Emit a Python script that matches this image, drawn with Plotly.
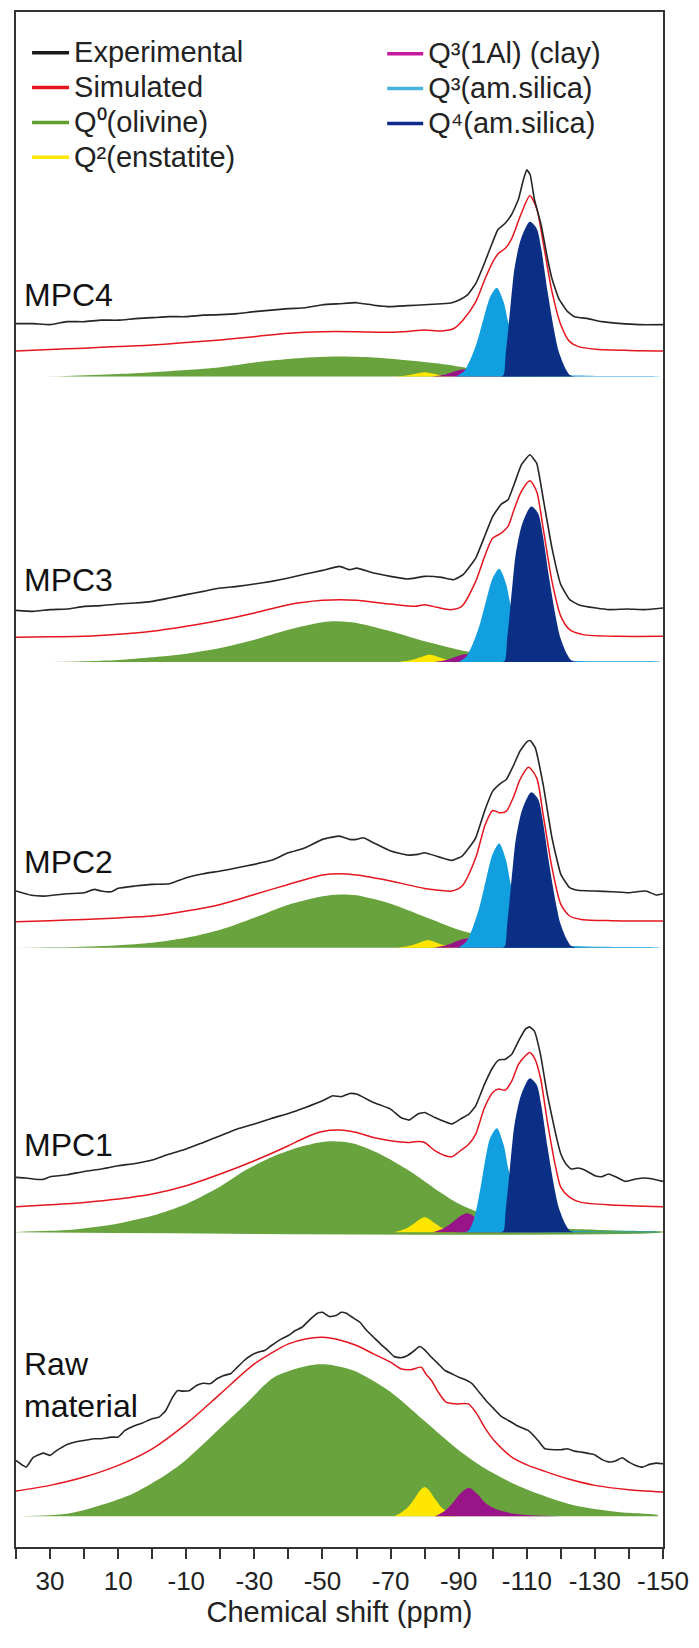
import plotly.graph_objects as go

# ---------------- data (ppm, intensity in a.u.) ----------------
mpc4_exp = [(40, 1), (35, 1), (30, 0), (25, 3), (20, 3), (15, 4.5), (10, 4.5), (5, 6), (0, 7), (-5, 8), (-10, 8),
            (-15, 9.5), (-20, 10), (-25, 11), (-30, 13), (-35, 14.5), (-40, 16), (-45, 17), (-50, 20), (-55, 21),
            (-60, 22), (-65, 19.5), (-70, 18), (-75, 19), (-80, 20), (-85, 21), (-88, 22), (-90, 24.5), (-92.5, 29.5),
            (-95, 41), (-97.5, 61), (-100, 83), (-101.5, 95), (-103.5, 101), (-105.5, 110), (-107.5, 125), (-109, 145),
            (-110, 155), (-111, 150), (-112.2, 126), (-114.2, 100), (-116.1, 66), (-117.4, 46), (-119.4, 26), (-122, 13),
            (-124, 8), (-128, 6), (-132, 3), (-137, 1.3), (-143, 0), (-150, 0)]
mpc4_sim = [(40, 0), (30, 1.5), (20, 2.7), (10, 4.5), (0, 6), (-10, 8.5), (-20, 11), (-30, 14.3), (-40, 17.7),
            (-50, 19.3), (-60, 19.3), (-70, 18.7), (-75, 19.5), (-80, 21), (-85, 20), (-88.7, 22.7), (-91.3, 31),
            (-95, 49), (-97.8, 72.7), (-100, 89), (-101.7, 97.7), (-103.7, 102.7), (-105.6, 112.7), (-108.2, 136),
            (-110.9, 155.3), (-112.9, 142.7), (-114.8, 109), (-117.4, 59.3), (-120, 26), (-122.6, 9.3), (-125.2, 4.3),
            (-130.4, 1.7), (-140, 0.5), (-150, 0)]
mpc4_q0 = [(35, 0), (25, 0.7), (10, 2.5), (0, 4.3), (-10, 6.5), (-20, 9.3), (-30, 14), (-40, 17.5), (-46, 19),
           (-55, 20), (-65, 19), (-78.6, 15), (-89, 10.7), (-95, 7), (-100, 4), (-110, 1.5), (-120, 0.6), (-135, 0)]
mpc4_q2 = [(-71, 0), (-73, 0.5), (-75, 1.3), (-77, 2.6), (-78.5, 3.7), (-80, 4.3), (-81.5, 3.7), (-83, 2.6),
           (-85, 1.3), (-87, 0.5), (-89, 0)]
mpc4_q3al = [(-82.2, 0), (-85.2, 1.5), (-87.7, 3.9), (-89.7, 6.2), (-92.2, 7.7), (-94.7, 6), (-97.2, 3.5),
             (-100.2, 1.9), (-103.2, 1.2), (-106.2, 0.6), (-110.2, 0.3), (-116.2, 0.1), (-122.2, 0)]
mpc4_q3am = [(-89.2, 0), (-90.2, 1.8), (-91.5, 5), (-93.4, 16.9), (-95.4, 34.7), (-97.3, 57.9), (-99.3, 80.1),
             (-101.2, 89), (-103.2, 74.8), (-104.5, 55.2), (-106.4, 34.7), (-108.5, 17.8), (-111, 8), (-115.2, 3),
             (-120.2, 1.5), (-130.2, 0.7), (-149, 0.2)]
mpc4_q4 = [(-102.5, 0), (-103.2, 1.6), (-103.8, 21.7), (-104.5, 45), (-105.4, 77.5), (-106.4, 108.5), (-108.3, 138),
           (-110.9, 155), (-112.9, 148.3), (-114.2, 128.7), (-116.1, 85.3), (-118.1, 45), (-119.4, 24.8),
           (-121.3, 8.4), (-122.6, 1.7), (-124, 0)]

mpc3_exp = [(40, 0), (35, -1), (30, 0.7), (25, 1.3), (20, 4), (15, 4.7), (10, 6.3), (5, 7.3), (0, 9), (-5, 12.3),
            (-10, 15.7), (-15, 19), (-20, 22.3), (-25, 24), (-30, 26.3), (-35, 29), (-40, 32.3), (-45, 36.3),
            (-50, 40), (-55, 44), (-58, 40.7), (-60, 42.3), (-65, 37.3), (-70, 34), (-75, 31.3), (-80, 34), (-85, 33),
            (-88.5, 30.7), (-91.3, 35.7), (-95, 52.3), (-97.8, 75.7), (-100, 94), (-102.5, 106.3), (-104.5, 110.7),
            (-106.4, 127.3), (-108.4, 145.7), (-110.9, 155.7), (-112.9, 147.3), (-114.8, 112.3), (-117.4, 62.3),
            (-120, 25.7), (-122.6, 10.7), (-125.2, 5.7), (-130.4, 2.3), (-134.3, 0.7), (-139.4, 1.3), (-144.6, 0.7),
            (-150, 2.3)]
mpc3_sim = [(40, 0), (30, 0.5), (20, 1), (10, 3), (0, 6), (-10, 11), (-20, 17), (-30, 24.3), (-40, 32.7), (-50, 37),
            (-55.3, 37.7), (-60, 37), (-70, 33.3), (-77.2, 31), (-80, 32.7), (-83.7, 30), (-87.6, 27.7), (-90.9, 31),
            (-95, 56), (-97.8, 82.7), (-100, 99.3), (-102.5, 104.3), (-104.5, 111), (-106.4, 129.3), (-108.4, 146),
            (-110.9, 156.7), (-112.9, 146), (-114.8, 109.3), (-117.4, 56), (-120, 21), (-122.6, 7.7), (-126.5, 2.7),
            (-136.8, 1), (-150, 1)]
mpc3_q0 = [(30, 0), (20, 0.7), (10, 2), (0, 4.7), (-10, 8.3), (-20, 14), (-30, 22.3), (-40, 32.3), (-50, 39.7),
           (-54, 40.7), (-60, 39), (-70, 30.7), (-80, 20.7), (-90, 12.3), (-95, 9), (-100, 5.7), (-110, 2.3),
           (-120, 0.7), (-130, 0)]
mpc3_q2 = [(-72.5, 0), (-74.5, 0.9), (-76.5, 2.2), (-78.5, 4.4), (-80, 6.3), (-81.5, 7.3), (-83, 6.3), (-84.5, 4.4),
           (-86.5, 2.2), (-88.5, 0.9), (-90.5, 0)]
mpc3_q3al = [(-82.7, 0), (-85.7, 1.6), (-88.2, 4), (-90.2, 6.4), (-92.7, 8), (-95.2, 6.2), (-97.7, 3.6),
             (-100.7, 2), (-103.7, 1.2), (-106.7, 0.6), (-110.7, 0.3), (-116.7, 0.1), (-122.7, 0)]
mpc3_q3am = [(-89.9, 0), (-90.9, 1.9), (-92.2, 5.2), (-94.1, 17.7), (-96.1, 36.4), (-98, 60.6), (-100, 84),
             (-101.9, 93.3), (-103.9, 78.4), (-105.2, 57.8), (-107.1, 36.4), (-109.2, 18.7), (-111.7, 8.4),
             (-115.9, 3.2), (-120.9, 1.6), (-130.9, 0.7), (-149, 0.2)]
mpc3_q4 = [(-102.9, 0), (-103.6, 1.6), (-104.2, 21.8), (-104.9, 45.2), (-105.8, 77.9), (-106.8, 109),
           (-108.7, 138.6), (-111.3, 155.7), (-113.3, 149), (-114.6, 129.2), (-116.5, 85.6), (-118.5, 45.2),
           (-119.8, 24.9), (-121.7, 8.4), (-123, 1.7), (-124.4, 0)]

mpc2_exp = [(40, 3), (35.5, -1.3), (31, -2), (25, 0.3), (20, 1.3), (17, 4.7), (15, 3), (12, 2.3), (10, 5.7), (5, 8),
            (0, 9.7), (-5, 10.3), (-10, 16.3), (-15, 20.3), (-20, 23), (-25, 26.3), (-30, 29.7), (-35, 33.7),
            (-40, 41.3), (-45, 46.3), (-50, 54.7), (-55, 58), (-58, 54.7), (-60, 54.7), (-62, 56.3), (-65, 51.3),
            (-70, 43), (-75, 39), (-78, 39.7), (-80, 41.3), (-85, 36.3), (-88, 33.7), (-91, 38), (-93, 46.3),
            (-95, 56.3), (-97.6, 83), (-100, 103), (-102.5, 111.3), (-104, 114.7), (-106, 128), (-108, 143),
            (-110, 152.3), (-111, 153.7), (-112.5, 146.3), (-114.8, 109.7), (-117.4, 56.3), (-120, 19.7),
            (-122.6, 6.3), (-125, 3.7), (-130, 3), (-135, 2.3), (-140, 1.3), (-145, 3), (-148, -1), (-150, 0.3)]
mpc2_sim = [(40, 0), (30, 1), (20, 2.3), (10, 3.8), (0, 5.7), (-10, 10.7), (-20, 17.3), (-30, 27.3), (-40, 37.3),
            (-50, 46.7), (-55, 48), (-60, 46.7), (-70, 40.7), (-80, 33.3), (-85, 31.3), (-88, 30.7), (-91, 35.7),
            (-95, 64), (-97.8, 97.3), (-100, 111.3), (-102, 109), (-104, 110.7), (-106, 124), (-108, 142.3),
            (-110.5, 154.7), (-112.9, 144), (-114.8, 107.3), (-117.4, 54), (-120, 17.3), (-122.6, 5.7), (-126, 2.3),
            (-135, 1), (-150, 0.7)]
mpc2_q0 = [(40, 0), (30, 0.3), (20, 1), (10, 2.5), (0, 5), (-10, 10), (-20, 18), (-30, 30), (-40, 43), (-50, 51.5),
           (-55, 53.3), (-60, 52.5), (-70, 44), (-80, 31), (-90, 18), (-100, 9), (-110, 4), (-120, 1.5), (-130, 0.5),
           (-150, 0)]
mpc2_q2 = [(-72, 0), (-74, 0.9), (-76, 2.2), (-78, 4.4), (-79.5, 6.3), (-81, 7.3), (-82.5, 6.3), (-84, 4.4),
           (-86, 2.2), (-88, 0.9), (-90, 0)]
mpc2_q3al = [(-82.7, 0), (-85.7, 1.9), (-88.2, 4.7), (-90.2, 7.4), (-92.7, 9.3), (-95.2, 7.3), (-97.7, 4.2),
             (-100.7, 2.3), (-103.7, 1.4), (-106.7, 0.7), (-110.7, 0.3), (-116.7, 0.1), (-122.7, 0)]
mpc2_q3am = [(-89.9, 0), (-90.9, 2.1), (-92.2, 5.8), (-94.1, 19.8), (-96.1, 40.7), (-98, 67.8), (-100, 93.9),
             (-101.9, 104.3), (-103.9, 87.6), (-105.2, 64.7), (-107.1, 40.7), (-109.2, 20.9), (-111.7, 9.4),
             (-115.9, 3.5), (-120.9, 1.8), (-130.9, 0.8), (-149, 0.2)]
mpc2_q4 = [(-102.9, 0), (-103.6, 1.6), (-104.2, 21.8), (-104.9, 45.2), (-105.8, 77.9), (-106.8, 109),
           (-108.7, 138.6), (-111.3, 155.7), (-113.3, 149), (-114.6, 129.2), (-116.5, 85.6), (-118.5, 45.2),
           (-119.8, 24.9), (-121.7, 8.4), (-123, 1.7), (-124.4, 0)]

mpc1_exp = [(40, 1.3), (37, 0.7), (35, -0.3), (32, -0.7), (30, 2), (25, 4), (20, 7.3), (15, 9.7), (10, 13),
            (5, 15.3), (0, 18.7), (-5, 24.7), (-10, 29.7), (-15, 36.3), (-20, 43), (-25, 49.7), (-30, 54.7),
            (-35, 60.3), (-40, 65.3), (-45, 71.3), (-50, 78), (-53, 83), (-55.5, 82), (-58, 85.3), (-60, 84.7),
            (-65, 76.3), (-70, 69.7), (-73, 61.3), (-75.5, 58.7), (-78, 64.7), (-80, 66.3), (-83, 61.3), (-86, 57),
            (-88, 54.7), (-90.5, 59.7), (-93, 64.7), (-95, 73), (-97.6, 94.7), (-100, 111.3), (-101.7, 118.7),
            (-103.7, 119.7), (-105.6, 124.7), (-107.6, 138), (-109.6, 149.7), (-110.8, 152), (-112.2, 148),
            (-114, 124.7), (-116, 84.7), (-118.5, 44.7), (-120, 24.7), (-121.5, 14.7), (-123, 9.7), (-125, 10.7),
            (-127, 8.7), (-130, 3), (-132, 2), (-134, 4.7), (-136.5, 1.3), (-139, -2.7), (-142, -0.3), (-144.6, 0.7),
            (-147, -0.3), (-150, -2.7)]
mpc1_sim = [(40, 0), (30, 2), (20, 4.3), (10, 7.7), (0, 12.7), (-10, 21), (-20, 32.7), (-30, 46), (-40, 61),
            (-45, 69.3), (-50, 75.3), (-55, 76.7), (-60, 74.3), (-65, 69.3), (-70, 66), (-75, 64.3), (-78, 65.3),
            (-80, 64.3), (-83, 56), (-86, 51), (-88, 50), (-90.5, 56), (-93, 62.7), (-95, 72.7), (-97.6, 99.3),
            (-100, 114.3), (-101.7, 117.7), (-103.7, 116.7), (-105.6, 126), (-107.6, 142.7), (-109.6, 151),
            (-110.8, 154.3), (-112.2, 149.3), (-114, 129.3), (-116, 86), (-118.5, 39.3), (-120, 19.3), (-122.6, 9.3),
            (-126, 4.3), (-135, 1.7), (-150, 0)]
mpc1_q0 = [(40, 0.3), (35, 1), (25, 2.3), (12, 7.7), (0, 16.7), (-10, 28.5), (-20, 46), (-28, 63.3), (-36, 76.7),
           (-43.6, 85.7), (-51.3, 91), (-59, 89), (-67, 78.3), (-74.7, 63.3), (-82.5, 45), (-90.2, 28.3), (-100, 15),
           (-110, 8), (-120, 4), (-130, 2.5), (-140, 1.5), (-150, 0.5)]
mpc1_q2 = [(-71, 0), (-73, 1.8), (-75, 4.5), (-77, 9), (-78.5, 12.9), (-80, 15), (-81.5, 12.9), (-83, 9), (-85, 4.5),
           (-87, 1.8), (-89, 0)]
mpc1_q3al = [(-82.5, 0), (-85.5, 3.8), (-88, 9.5), (-90, 15.2), (-92.5, 19), (-95, 14.8), (-97.5, 8.6), (-100.5, 4.8),
             (-103.5, 2.9), (-106.5, 1.5), (-110.5, 0.7), (-116.5, 0.2), (-122.5, 0)]
mpc1_q3am = [(-91.7, 0), (-93, 2.1), (-94.3, 11.5), (-95.5, 28.2), (-96.8, 52.2), (-98.1, 78.2), (-99.3, 94.9),
             (-101.2, 104.3), (-103.2, 87.6), (-104.5, 64.7), (-106.4, 40.7), (-108.5, 20.9), (-111, 9.4),
             (-115.2, 3.5), (-120.2, 1.8), (-130.2, 0.8), (-149, 0.2)]
mpc1_q4 = [(-102.5, 0), (-103.2, 1.5), (-103.8, 21.6), (-104.5, 44.7), (-105.4, 77.2), (-106.4, 108), (-108.3, 137.3),
           (-110.9, 154.3), (-112.9, 147.7), (-114.2, 128.1), (-116.1, 84.9), (-118.1, 44.7), (-119.4, 24.7),
           (-121.3, 8.3), (-122.6, 1.7), (-124, 0)]

raw_exp = [(40, 1), (38, -4), (37, -5.7), (35, 3.7), (32, 8.3), (30, 6), (28, 11), (25, 17), (22, 20), (20, 21),
           (17, 22.7), (15, 22.7), (12, 24.3), (10, 24.3), (8, 31), (5, 36), (3, 38.3), (0, 42.7), (-2, 44.3), (-4, 51),
           (-6, 64.3), (-7.5, 71), (-9, 70.3), (-11, 71), (-13, 76), (-15, 78.3), (-17, 77.7), (-19, 82.7), (-21, 86),
           (-23, 87.7), (-25, 94.3), (-27, 101), (-29, 106), (-31, 109.3), (-33, 111), (-35, 116), (-38, 122.7),
           (-40, 126), (-42, 131), (-44, 134.3), (-46, 141), (-48.5, 148.3), (-50, 149.3), (-52, 145), (-54, 146),
           (-55.5, 149.3), (-57, 148.3), (-59, 143.7), (-61, 139.3), (-63, 131), (-65, 124.3), (-67, 117.7),
           (-69, 111.7), (-71, 105), (-73, 103.7), (-75, 106), (-77, 111), (-78.5, 115), (-80, 111.7), (-82, 104.3),
           (-84, 97.7), (-86, 91), (-88, 87.7), (-90, 84.3), (-92, 81.7), (-94, 77.7), (-96, 69.3), (-98, 61),
           (-100.8, 51), (-102.5, 45), (-104.6, 41), (-107, 36), (-110.4, 31), (-113.3, 21), (-115.3, 12.7),
           (-118, 11.7), (-120, 11.7), (-122, 12.7), (-124, 10.3), (-126, 9.3), (-128, 8), (-130, 6.5), (-132, 2),
           (-134, -0.5), (-136, 0.3), (-138, 3.7), (-140, -0.7), (-142, -4), (-144, -5.7), (-146, -3), (-148, -1.7),
           (-150, -2.3)]
raw_sim = [(40, 1), (30, 6.7), (20, 15), (10, 26.7), (0, 43.3), (-10, 68.3), (-20, 98.3), (-30, 128.3), (-40, 148.3),
           (-45, 153.3), (-50, 155), (-55, 152.3), (-60, 146.7), (-65, 138.3), (-70, 130), (-73, 123.4), (-76, 122.5),
           (-79, 125), (-80.4, 118), (-82, 111.7), (-84, 100), (-86.3, 90), (-89, 88.3), (-92.8, 88.3), (-95, 80),
           (-97.9, 63.3), (-100.8, 50), (-105.6, 35), (-110.4, 26.7), (-115.3, 20.7), (-122, 13.3), (-130, 6.7),
           (-140, 2.3), (-150, 0)]
raw_q0 = [(38.7, 0), (25, 2.7), (18.6, 7.7), (5.7, 22.7), (-7.3, 49.3), (-20.2, 89.3), (-28, 114.3), (-35.8, 139.3),
          (-46.1, 151), (-51.3, 152), (-59.1, 146), (-69.4, 126), (-79.8, 96), (-90.1, 66), (-97.9, 47.7),
          (-108.3, 29.3), (-123.8, 11), (-136.8, 4.3), (-148.5, 1)]
raw_q2 = [(-71, 0), (-73, 3.5), (-75, 8.8), (-77, 17.6), (-78.5, 25.2), (-80, 29.3), (-81.5, 25.2), (-83, 17.6),
          (-85, 8.8), (-87, 3.5), (-89, 0)]
raw_q3al = [(-83, 0), (-86, 5.7), (-88.5, 14.4), (-90.5, 23), (-93, 28.7), (-95.5, 22.4), (-98, 12.9), (-101, 7.2),
            (-104, 4.3), (-107, 2.3), (-111, 1), (-117, 0.3), (-123, 0)]

panel_names = ["MPC4", "MPC3", "MPC2", "MPC1", "Raw<br>material"]
series_names = ["Experimental", "Simulated", "Q\u2070(olivine)", "Q\u00b2(enstatite)",
                "Q\u00b3(1Al) (clay)", "Q\u00b3(am.silica)", "Q\u2074(am.silica)"]
major_ticks = [30, 10, -10, -30, -50, -70, -90, -110, -130, -150]
major_labels = ["30", "10", "-10", "-30", "-50", "-70", "-90", "-110", "-130", "-150"]
minor_ticks = [40, 20, 0, -20, -40, -60, -80, -100, -120, -140]

panels = [
    (mpc4_exp, mpc4_sim, [mpc4_q0, mpc4_q2, mpc4_q3al, mpc4_q3am, mpc4_q4]),
    (mpc3_exp, mpc3_sim, [mpc3_q0, mpc3_q2, mpc3_q3al, mpc3_q3am, mpc3_q4]),
    (mpc2_exp, mpc2_sim, [mpc2_q0, mpc2_q2, mpc2_q3al, mpc2_q3am, mpc2_q4]),
    (mpc1_exp, mpc1_sim, [mpc1_q0, mpc1_q2, mpc1_q3al, mpc1_q3am, mpc1_q4]),
    (raw_exp, raw_sim, [raw_q0, raw_q2, raw_q3al]),
]

# ---------------- layout / style ----------------
FONT = "Liberation Sans, Arial, Helvetica, sans-serif"
EXP_COLOR = "#262626"
SIM_COLOR = "#e5161f"
FILL_COLORS = ["#68a33d", "#ffe600", "#9a1489", "#129fdf", "#0c2f86"]
LEGEND_COLORS = ["#1a1a1a", "#e5161f", "#5f9f2f", "#ffe600", "#c4199d", "#47b2dc", "#0b2a8c"]

PLOT_H = 1536.7
# vertical baselines (exp, sim, components) of each stacked panel, in axis units
offsets = [(1223.7, 1197.4, 1171.7), (937.7, 910.7, 886.0), (653.7, 626.0, 600.0),
           (368.7, 340.7, 315.0), (85.7, 55.0, 30.7)]
label_y = [1253.7, 967.7, 685.4, 402.7, 161.7]

fig = go.Figure()

for (exp, sim, comps), (o_exp, o_sim, o_comp) in zip(panels, offsets):
    for k, comp in enumerate(comps):
        xs = [p for p, _ in comp]
        ys = [v + o_comp for _, v in comp]
        if comp[-1][1] != 0:
            xs.append(comp[-1][0]); ys.append(o_comp)
        if comp[0][1] != 0:
            xs.append(comp[0][0]); ys.append(o_comp)
        fig.add_trace(go.Scatter(x=xs, y=ys, mode="lines", fill="toself", fillcolor=FILL_COLORS[k],
                                 line=dict(width=0, shape="spline", smoothing=0.8, color=FILL_COLORS[k]),
                                 showlegend=False, hoverinfo="skip"))
    fig.add_trace(go.Scatter(x=[p for p, _ in sim], y=[v + o_sim for _, v in sim], mode="lines",
                             line=dict(color=SIM_COLOR, width=1.5, shape="spline", smoothing=0.7),
                             showlegend=False, hoverinfo="skip"))
    fig.add_trace(go.Scatter(x=[p for p, _ in exp], y=[v + o_exp for _, v in exp], mode="lines",
                             line=dict(color=EXP_COLOR, width=1.6, shape="spline", smoothing=0.4),
                             showlegend=False, hoverinfo="skip"))

# legend entries (two columns)
for i, (name, col) in enumerate(zip(series_names, LEGEND_COLORS)):
    fig.add_trace(go.Scatter(x=[None], y=[None], mode="lines", line=dict(color=col, width=3.5),
                             name='<span style="font-size:29px">' + name + "</span>",
                             legend="legend" if i < 4 else "legend2"))

for name, y in zip(panel_names, label_y):
    fig.add_annotation(x=0.009, xref="paper", xanchor="left", y=y, yref="y", yanchor="middle",
                       text=name, showarrow=False, align="left",
                       font=dict(family=FONT, size=32, color="#111111"))

fig.update_layout(
    width=699, height=1648,
    margin=dict(l=15.5, r=29.5, t=10, b=101.3),
    paper_bgcolor="white", plot_bgcolor="white",
    font=dict(family=FONT, color="#222222"),
    legend=dict(x=0.0171, y=0.9881, xanchor="left", yanchor="top", bgcolor="rgba(0,0,0,0)",
                font=dict(family=FONT, size=24.5, color="#222222"), itemwidth=37, tracegroupgap=0),
    legend2=dict(x=0.566, y=0.9874, xanchor="left", yanchor="top", bgcolor="rgba(0,0,0,0)",
                 font=dict(family=FONT, size=24.5, color="#222222"), itemwidth=36, tracegroupgap=0),
    xaxis=dict(range=[40, -150], tickmode="array", tickvals=major_ticks, ticktext=major_labels,
               ticks="outside", ticklen=10, tickwidth=1.5, tickcolor="#333333",
               minor=dict(tickmode="array", tickvals=minor_ticks, ticks="outside", ticklen=10, tickwidth=1.5,
                          tickcolor="#333333", showgrid=False),
               showline=True, linecolor="#333333", linewidth=1.5,
               mirror=True, showgrid=False, zeroline=False,
               tickfont=dict(family=FONT, size=26, color="#222222"),
               title=dict(text="Chemical shift (ppm)", font=dict(family=FONT, size=29, color="#222222"),
                          standoff=3)),
    yaxis=dict(range=[0, PLOT_H], showline=True, linecolor="#333333", linewidth=1.5, mirror=True,
               showgrid=False, zeroline=False, showticklabels=False, ticks=""),
)

fig.write_html("out.html")
